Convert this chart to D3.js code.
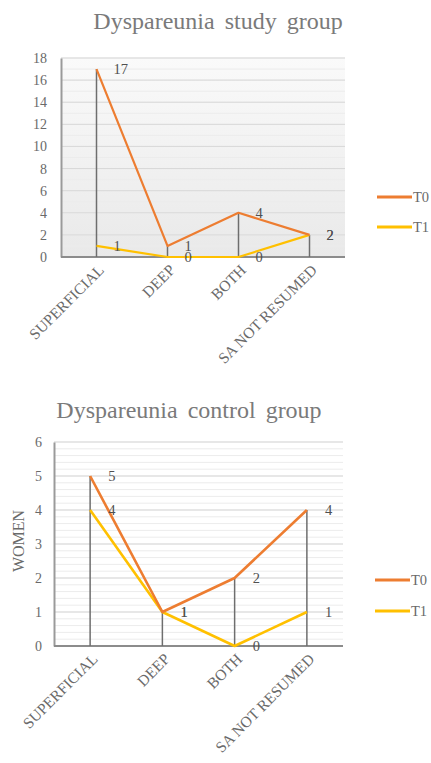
<!DOCTYPE html>
<html>
<head>
<meta charset="utf-8">
<script src="https://cdn.jsdelivr.net/npm/d3@7"></script>
<style>
  html, body { margin: 0; padding: 0; background: #fff; }
  svg { display: block; }
  svg text { font-family: "Liberation Serif", "Times New Roman", "DejaVu Serif", serif !important; }
</style>
</head>
<body>
<svg id="chart" width="431" height="763"></svg>
<script>
// Categories shared by both panels
const categories = ["SUPERFICIAL", "DEEP", "BOTH", "SA NOT  RESUMED"];
const categoriesControl = ["SUPERFICIAL", "DEEP", "BOTH", "SA NOT RESUMED"];

// Study group counts
const studyT0 = [17, 1, 4, 2];
const studyT1 = [1, 0, 0, 2];
const studyTicks = [0, 2, 4, 6, 8, 10, 12, 14, 16, 18];

// Control group counts
const controlT0 = [5, 1, 2, 4];
const controlT1 = [4, 1, 0, 1];
const controlTicks = [0, 1, 2, 3, 4, 5, 6];

const seriesNames = ["T0", "T1"];
const seriesColors = ["#ED7D31", "#FFC000"];

const svg = d3.select("#chart");

const defs = svg.append("defs");
const grad = defs.append("linearGradient")
  .attr("id", "plotBg").attr("x1", 0).attr("y1", 0).attr("x2", 0).attr("y2", 1);
grad.append("stop").attr("offset", "0%").attr("stop-color", "#fafafa");
grad.append("stop").attr("offset", "100%").attr("stop-color", "#e9e9e9");

function drawPanel(cfg) {
  const g = svg.append("g");
  const x = d3.scalePoint().domain(cfg.cats).range([cfg.left, cfg.right]).padding(0.5);
  const y = d3.scaleLinear().domain([0, cfg.max]).range([cfg.bottom, cfg.top]);

  // title
  g.append("text")
    .attr("x", cfg.titleX).attr("y", cfg.titleY)
    .attr("text-anchor", "middle")
    .attr("font-size", cfg.titleSize)
    .attr("fill", "#7a7a7a")
    .attr("word-spacing", "4px")
    .text(cfg.title);

  // plot background
  g.append("rect")
    .attr("x", cfg.left).attr("y", cfg.top)
    .attr("width", cfg.right - cfg.left).attr("height", cfg.bottom - cfg.top)
    .attr("fill", cfg.bg);

  // minor gridlines
  g.append("g").selectAll("line")
    .data(d3.range(0, cfg.max + 1e-9, cfg.minorStep))
    .join("line")
    .attr("x1", cfg.left).attr("x2", cfg.right)
    .attr("y1", d => y(d)).attr("y2", d => y(d))
    .attr("stroke", "#ececec").attr("stroke-width", 1);

  // major gridlines
  g.append("g").selectAll("line")
    .data(cfg.ticks.filter(t => t > 0))
    .join("line")
    .attr("x1", cfg.left).attr("x2", cfg.right)
    .attr("y1", d => y(d)).attr("y2", d => y(d))
    .attr("stroke", "#d9d9d9").attr("stroke-width", 1);

  // y axis
  const yAxis = d3.axisLeft(y).tickValues(cfg.ticks).tickFormat(d3.format("d"))
    .tickSize(0).tickPadding(cfg.tickPad);
  const ya = g.append("g").attr("transform", `translate(${cfg.left},0)`).call(yAxis);
  ya.select(".domain").attr("stroke", "#9a9a9a").attr("stroke-width", 2);
  ya.selectAll("text")
    .attr("font-size", 14).attr("fill", "#6a6a6a");

  // x axis
  const xAxis = d3.axisBottom(x).tickSize(0).tickPadding(0);
  const xa = g.append("g").attr("transform", `translate(0,${cfg.bottom})`).call(xAxis);
  xa.select(".domain").remove();
  xa.selectAll("text")
    .attr("font-size", 15.5).attr("fill", "#6a6a6a")
    .attr("text-anchor", "end")
    .attr("dy", 0)
    .attr("transform", "translate(8,14) rotate(-45)");
  g.append("line")
    .attr("x1", cfg.left).attr("x2", cfg.right)
    .attr("y1", cfg.bottom).attr("y2", cfg.bottom)
    .attr("stroke", "#8c8c8c").attr("stroke-width", 2);

  // drop lines from the highest point to the baseline
  g.append("g").selectAll("line")
    .data(cfg.cats.map((c, i) => ({ c, v: Math.max(cfg.t0[i], cfg.t1[i]) })))
    .join("line")
    .attr("x1", d => x(d.c)).attr("x2", d => x(d.c))
    .attr("y1", d => y(d.v)).attr("y2", cfg.bottom)
    .attr("stroke", "#6e6e6e").attr("stroke-width", 1.5);

  // series lines (T1 first so T0 sits on top)
  [[cfg.t1, 1], [cfg.t0, 0]].forEach(([vals, si]) => {
    const line = d3.line()
      .x((d, i) => x(cfg.cats[i]))
      .y(d => y(d));
    g.append("path")
      .datum(vals)
      .attr("d", line)
      .attr("fill", "none")
      .attr("stroke", seriesColors[si])
      .attr("stroke-width", cfg.lineWidth)
      .attr("stroke-linejoin", "round");
  });

  // data labels
  [cfg.t0, cfg.t1].forEach(vals => {
    g.append("g").selectAll("text")
      .data(vals)
      .join("text")
      .attr("x", (d, i) => x(cfg.cats[i]) + cfg.labelDx)
      .attr("y", d => y(d) + 5)
      .attr("font-size", 14.5)
      .attr("fill", "#505050")
      .text(d => d);
  });

  // legend
  seriesNames.forEach((name, i) => {
    const ly = cfg.legendY[i];
    g.append("line")
      .attr("x1", cfg.legendX).attr("x2", cfg.legendX + 35)
      .attr("y1", ly).attr("y2", ly)
      .attr("stroke", seriesColors[i]).attr("stroke-width", 3);
    g.append("text")
      .attr("x", cfg.legendX + 36).attr("y", ly + 5)
      .attr("font-size", 14.5).attr("fill", "#6a6a6a")
      .text(name);
  });

  // y axis title
  if (cfg.yTitle) {
    g.append("text")
      .attr("transform", `translate(${cfg.yTitleX},${cfg.yTitleY}) rotate(-90)`)
      .attr("text-anchor", "middle")
      .attr("font-size", 16).attr("fill", "#6a6a6a")
      .text(cfg.yTitle);
  }
}

drawPanel({
  title: "Dyspareunia study group", titleX: 218, titleY: 29, titleSize: 24,
  cats: categories, t0: studyT0, t1: studyT1, ticks: studyTicks, max: 18, minorStep: 1,
  left: 61, right: 345, top: 58, bottom: 257, tickPad: 14,
  bg: "url(#plotBg)", lineWidth: 2.2, labelDx: 17,
  legendX: 377, legendY: [197, 227]
});

drawPanel({
  title: "Dyspareunia control group", titleX: 189, titleY: 418, titleSize: 24,
  cats: categoriesControl, t0: controlT0, t1: controlT1, ticks: controlTicks, max: 6, minorStep: 0.2,
  left: 54, right: 343, top: 442, bottom: 646, tickPad: 12,
  bg: "#ffffff", lineWidth: 2.6, labelDx: 18,
  legendX: 375, legendY: [580, 611],
  yTitle: "WOMEN", yTitleX: 24, yTitleY: 541
});
</script>
</body>
</html>
